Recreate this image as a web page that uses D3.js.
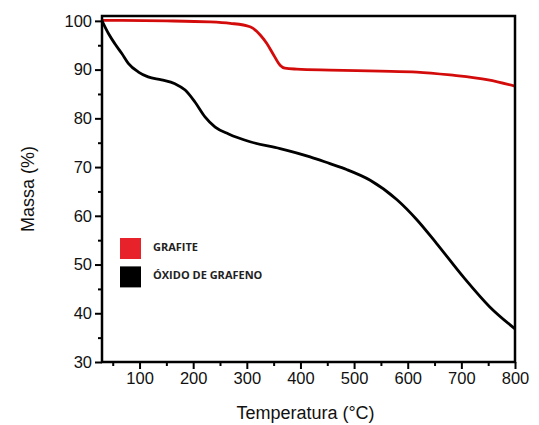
<!DOCTYPE html>
<html>
<head>
<meta charset="utf-8">
<script src="https://cdn.jsdelivr.net/npm/d3@7"></script>
<style>
  body { margin: 0; background: #fff; }
  svg { display: block; }
</style>
</head>
<body>
<script>
const width = 539;
const height = 425;

// temperatura (°C) / massa (%)
const grafiteTemp = [30, 150, 230, 269, 306, 325, 337, 350, 362, 371, 393, 455, 549, 617, 679, 750, 800];
const grafiteMassa = [100.1, 100.0, 99.8, 99.5, 98.8, 97.1, 95.4, 93.0, 90.9, 90.3, 90.1, 89.9, 89.7, 89.5, 88.9, 87.9, 86.6];

const oxidoTemp = [30, 42, 54, 67, 79, 98, 116, 141, 166, 185, 203, 222, 241, 266, 306, 362, 418, 455, 486, 530, 580, 617, 654, 704, 753, 800];
const oxidoMassa = [100, 97.4, 95.3, 93.3, 91.3, 89.5, 88.5, 87.9, 87.1, 85.8, 83.4, 80.3, 78.2, 76.8, 75.2, 73.8, 72.1, 70.7, 69.5, 67.3, 63.3, 59.2, 54.3, 47.4, 41.3, 36.8];

const xTicks = [100, 200, 300, 400, 500, 600, 700, 800];
const xMinor = [50, 150, 250, 350, 450, 550, 650, 750];
const yTicks = [30, 40, 50, 60, 70, 80, 90, 100];
const yMinor = [35, 45, 55, 65, 75, 85, 95];

const seriesNames = ["GRAFITE", "ÓXIDO DE GRAFENO"];
const seriesColors = ["#d40b0b", "#000000"];
const legendColors = ["#e8222a", "#000000"];

const margin = { top: 16, right: 24, bottom: 63, left: 102 };
const innerW = width - margin.left - margin.right;
const innerH = height - margin.top - margin.bottom;

const x = d3.scaleLinear().domain([30, 800]).range([0, innerW]);
const y = d3.scaleLinear().domain([30, 101]).range([innerH, 0]);

const svg = d3.select("body").append("svg")
  .attr("width", width)
  .attr("height", height);

const g = svg.append("g").attr("transform", `translate(${margin.left},${margin.top})`);

const series = [
  { name: seriesNames[0], color: seriesColors[0], values: d3.zip(grafiteTemp, grafiteMassa) },
  { name: seriesNames[1], color: seriesColors[1], values: d3.zip(oxidoTemp, oxidoMassa) }
];

const line = d3.line()
  .x(d => x(d[0]))
  .y(d => y(d[1]))
  .curve(d3.curveMonotoneX);

g.append("defs").append("clipPath").attr("id", "clip")
  .append("rect").attr("width", innerW).attr("height", innerH);

g.append("g").attr("clip-path", "url(#clip)")
  .selectAll("path")
  .data(series)
  .join("path")
  .attr("fill", "none")
  .attr("stroke", d => d.color)
  .attr("stroke-width", 2.8)
  .attr("stroke-linejoin", "round")
  .attr("d", d => line(d.values));

// minor ticks
g.append("g")
  .attr("transform", `translate(0,${innerH})`)
  .call(d3.axisBottom(x).tickValues(xMinor).tickSize(4).tickFormat(""))
  .call(a => a.select(".domain").remove())
  .call(a => a.selectAll("line").attr("stroke-width", 2));

g.append("g")
  .call(d3.axisLeft(y).tickValues(yMinor).tickSize(4).tickFormat(""))
  .call(a => a.select(".domain").remove())
  .call(a => a.selectAll("line").attr("stroke-width", 2));

// major ticks
g.append("g")
  .attr("transform", `translate(0,${innerH})`)
  .call(d3.axisBottom(x).tickValues(xTicks).tickSize(7).tickPadding(3).tickSizeOuter(0))
  .call(a => a.select(".domain").remove())
  .call(a => a.selectAll("line").attr("stroke-width", 2))
  .call(a => a.selectAll("text")
    .attr("font-family", "Liberation Sans, Arial, sans-serif")
    .attr("font-size", 16.5)
    .attr("fill", "#111"));

g.append("g")
  .call(d3.axisLeft(y).tickValues(yTicks).tickSize(7).tickPadding(3).tickSizeOuter(0))
  .call(a => a.select(".domain").remove())
  .call(a => a.selectAll("line").attr("stroke-width", 2))
  .call(a => a.selectAll("text")
    .attr("font-family", "Liberation Sans, Arial, sans-serif")
    .attr("font-size", 16.5)
    .attr("fill", "#111"));

// frame
g.append("rect")
  .attr("width", innerW)
  .attr("height", innerH)
  .attr("fill", "none")
  .attr("stroke", "#000")
  .attr("stroke-width", 2.5);

// titles
svg.append("text")
  .attr("x", margin.left + innerW / 2 - 3)
  .attr("y", 419)
  .attr("text-anchor", "middle")
  .attr("font-family", "Liberation Sans, Arial, sans-serif")
  .attr("font-size", 18)
  .attr("fill", "#111")
  .text("Temperatura (°C)");

svg.append("text")
  .attr("transform", `translate(34,${margin.top + innerH / 2}) rotate(-90)`)
  .attr("text-anchor", "middle")
  .attr("font-family", "Liberation Sans, Arial, sans-serif")
  .attr("font-size", 18)
  .attr("fill", "#111")
  .text("Massa (%)");

// legend
const legend = g.append("g").attr("transform", "translate(18,222)");
const item = legend.selectAll("g")
  .data(series)
  .join("g")
  .attr("transform", (d, i) => `translate(0,${i * 28.4})`);

item.append("rect")
  .attr("width", 21)
  .attr("height", 21)
  .attr("fill", (d, i) => legendColors[i]);

item.append("text")
  .attr("x", 33)
  .attr("y", 13)
  .attr("font-family", "Open Sans, sans-serif")
  .attr("font-weight", 700)
  .attr("font-size", 11)
  .attr("fill", "#222")
  .text(d => d.name);
</script>
</body>
</html>
